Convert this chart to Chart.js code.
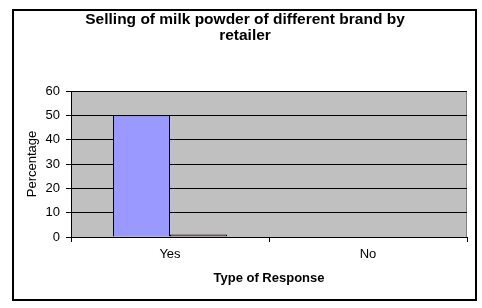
<!DOCTYPE html>
<html>
<head>
<meta charset="utf-8">
<script src="https://cdn.jsdelivr.net/npm/chart.js@4"></script>
<style>
  html, body { margin: 0; padding: 0; background: #fff; }
  #wrap { width: 482px; height: 308px; }
</style>
</head>
<body>
<div id="wrap"><canvas id="chart" width="482" height="308"></canvas></div>
<script>
const categories = ['Yes', 'No']
const series1 = [50, 0]
const series2 = [1, 0]
const yTicks = [0, 10, 20, 30, 40, 50, 60]

// grey plot area and outer frame, like the spreadsheet chart
const frame = {
  id: 'frame',
  beforeDraw (chart) {
    const { ctx, chartArea: a } = chart
    ctx.save()
    ctx.fillStyle = '#fff'
    ctx.fillRect(0, 0, chart.width, chart.height)
    ctx.fillStyle = '#c0c0c0'
    ctx.fillRect(a.left, a.top, a.right - a.left, a.bottom - a.top)
    ctx.strokeStyle = '#808080'
    ctx.lineWidth = 1
    ctx.strokeRect(a.left + 0.5, a.top + 0.5, a.right - a.left - 1, a.bottom - a.top)
    ctx.strokeStyle = '#000'
    ctx.lineWidth = 2
    ctx.strokeRect(13, 10, 463, 290)
    ctx.restore()
  }
}

Chart.defaults.font.family = '"Liberation Sans", Arial, sans-serif'
Chart.defaults.color = '#000'

// eslint-disable-next-line no-unused-vars, no-undef
const chart = new Chart(document.querySelector('#chart'), {
  type: 'bar',
  data: {
    labels: categories,
    datasets: [{
      label: 'Series1',
      data: series1,
      backgroundColor: '#9999ff',
      borderColor: '#000',
      borderWidth: 1
    }, {
      label: 'Series2',
      data: series2,
      backgroundColor: '#993366',
      borderColor: '#000',
      borderWidth: 1
    }]
  },
  plugins: [frame],
  options: {
    responsive: false,
    animation: false,
    layout: { padding: { left: 23, right: 15, top: 0, bottom: 0 } },
    datasets: {
      bar: { categoryPercentage: 0.576, barPercentage: 1 }
    },
    scales: {
      x: {
        afterFit (scale) { scale.height = 71 },
        grid: {
          offset: true,
          drawOnChartArea: false,
          color: '#000',
          tickLength: 5
        },
        border: { color: '#000' },
        ticks: { padding: 5, font: { size: 13 } },
        title: {
          display: true,
          text: 'Type of Response',
          font: { size: 13, weight: 'bold' },
          padding: { top: 0, bottom: 22 }
        }
      },
      y: {
        min: 0,
        max: 60,
        afterFit (scale) { scale.width = 48 },
        afterBuildTicks (scale) { scale.ticks = yTicks.map(v => ({ value: v })) },
        grid: { color: '#000', tickLength: 5 },
        border: { color: '#000' },
        ticks: { padding: 6, font: { size: 13 } },
        title: {
          display: true,
          text: 'Percentage',
          font: { size: 13 },
          padding: { top: 2, bottom: 0 }
        }
      }
    },
    plugins: {
      legend: { display: false },
      tooltip: { enabled: false },
      title: {
        display: true,
        text: ['Selling of milk powder of different brand by', 'retailer'],
        font: { size: 15.5, weight: 'bold', lineHeight: 1.0 },
        padding: { top: 12, bottom: 48 }
      }
    }
  }
})
</script>
</body>
</html>
